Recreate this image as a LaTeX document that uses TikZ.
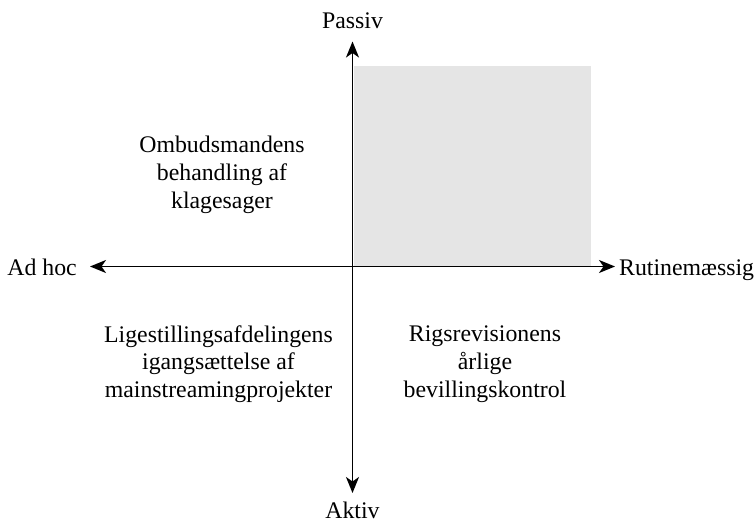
\documentclass[tikz,border=0pt]{standalone}
\usepackage{fontspec}
\setmainfont{Liberation Serif}
\usetikzlibrary{arrows.meta}
\begin{document}
\begin{tikzpicture}[x=1pt,y=-1pt,
  lbl/.style={inner sep=0pt, font=\fontsize{23.8}{27.8}\selectfont},
  blk/.style={lbl, align=center},
  axis/.style={line width=1.7pt, -{Stealth[length=16pt,width=13pt,inset=4.5pt]}},
  quad/.style={fill=black!10, draw=none}]
\useasboundingbox (0,0) rectangle (755,522);
\fill[quad] (354,66) rectangle (591,266);
\coordinate (o) at (352.5,266.5);
\coordinate (top) at (352.5,41.5);
\coordinate (bot) at (352.5,493);
\coordinate (lft) at (90,266.5);
\coordinate (rgt) at (615,266.5);
\draw[axis] (o) -- (top);
\draw[axis] (o) -- (bot);
\draw[axis] (o) -- (lft);
\draw[axis] (o) -- (rgt);
\node[lbl, anchor=base] (passiv) at (352.5,28) {Passiv};
\node[lbl, anchor=base] (aktiv) at (352.5,518) {Aktiv};
\node[lbl, anchor=base east] (adhoc) at (77,275) {Ad hoc};
\node[lbl, anchor=base west] (rutine) at (619,275) {Rutinemæssig};
\node[blk] (ombud) at (222,175) {Ombudsmandens\\behandling af\\klagesager};
\node[blk] (lige) at (218.5,364) {Ligestillingsafdelingens\\igangsættelse af\\mainstreamingprojekter};
\node[blk] (rigs) at (485,364) {Rigsrevisionens\\årlige\\bevillingskontrol};
\end{tikzpicture}
\end{document}
